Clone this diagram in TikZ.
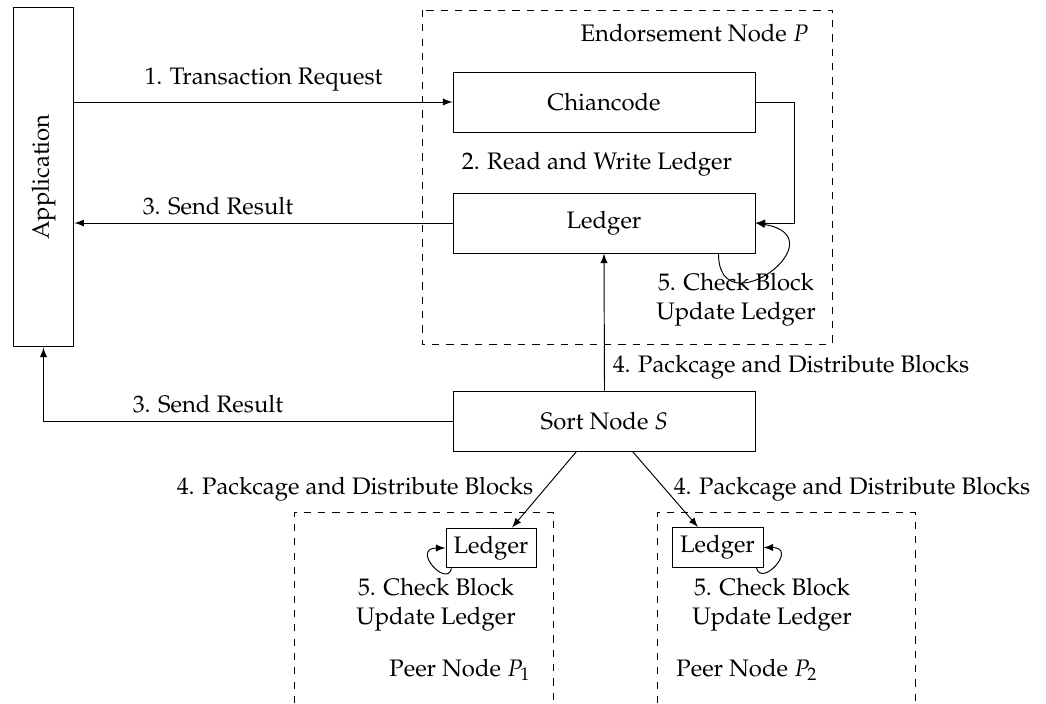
\documentclass[tikz,border=0pt]{standalone}
\usepackage[T1]{fontenc}
\usepackage{mathpazo}
\usepackage{graphicx}
\usetikzlibrary{arrows,calc}

\tikzset{
	box/.style={draw, minimum width=126.4pt, minimum height=25.1pt},
	small box/.style={draw, inner sep=0pt, minimum height=16.7pt},
	group/.style={dashed},
	link/.style={->,>=latex}
}

\begin{document}
\begin{tikzpicture}[x=0.4186pt,y=-0.4186pt]
	\useasboundingbox (0,0) rectangle (1046,703);
	% boxes
	\node[draw, minimum width=25.5pt, minimum height=142.3pt] (app) at (43.5,177) {\rotatebox{90}{Application}};
	\node[box] (chain) at (604,102) {Chiancode};
	\node[box] (ledger) at (604,223) {Ledger};
	\node[box] (sort) at (604.5,421) {Sort Node $S$};
	\node[small box, minimum width=37.7pt] (l1) at (491,548) {Ledger};
	\node[small box, minimum width=38.1pt] (l2) at (717.5,547.5) {Ledger};
	% dashed groups
	\draw[group] (422,10) rectangle (832,344);
	\draw[group] (294,703) |- (553,512) -- (553,703);
	\draw[group] (657,703) |- (915,512) -- (915,703);
	% labels
	\node (endo) at (694.5,33) {Endorsement Node $P$};
	\node (req) at (263.5,80) {1. Transaction Request};
	\node (rw) at (597,164) {2. Read and Write Ledger};
	\node (res1) at (218,206) {3. Send Result};
	\node[align=center] (chk) at (736,300) {5. Check Block\\Update Ledger};
	\node (dist) at (791,367) {4. Packcage and Distribute Blocks};
	\node (res2) at (208,404) {3. Send Result};
	\node (dist1) at (355,489) {4. Packcage and Distribute Blocks};
	\node (dist2) at (852,489) {4. Packcage and Distribute Blocks};
	\node[align=center] (chk1) at (436,605) {5. Check Block\\Update Ledger};
	\node[align=center] (chk2) at (772,605) {5. Check Block\\Update Ledger};
	\node (peer1) at (460,670) {Peer Node $P_1$};
	\node (peer2) at (747,670) {Peer Node $P_2$};
	% arrows
	\draw[link] (chain.west -| app.east) -- (chain.west);
	\draw[link] (chain.east) -- ++(39,0) |- (ledger.east);
	\draw[link] (ledger.west) -- (ledger.west -| app.east);
	\draw[link] ($(ledger.south east)+(-37,0)$) .. controls +(0,76) and +(86,14) .. (ledger.east);
	\draw[link] (sort.north) -- (ledger.south);
	\draw[link] (sort.west) -| (app.south);
	\draw[link] ($(sort.south)+(-28,0)$) -- ($(l1.north)+(21,0)$);
	\draw[link] ($(sort.south)+(28,0)$) -- ($(l2.north)+(-19.5,0)$);
	\draw[link] ($(l1.south west)+(6,0)$) .. controls +(-5,20) and +(-35,0) .. (l1.west);
	\draw[link] ($(l2.south east)+(-7,0)$) .. controls +(5,20) and +(35,0) .. (l2.east);
\end{tikzpicture}
\end{document}
